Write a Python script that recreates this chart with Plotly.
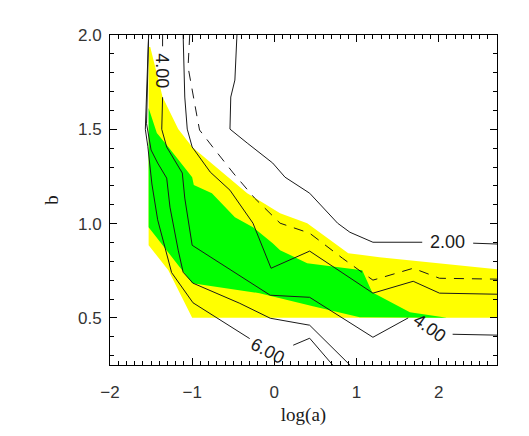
import plotly.graph_objects as go

# ---- filled confidence regions (data units) ----
yellow_x = [-1.51, -1.36, -1.17, -1.00, -0.33, 0.07, 0.40, 0.90, 1.28, 2.75, 2.75, -1.00, -1.29, -1.53, -1.53]
yellow_y = [1.936, 1.671, 1.501, 1.406, 1.161, 1.055, 1.002, 0.843, 0.822, 0.756, 0.50, 0.50, 0.753, 0.885, 1.936]

green_x = [-1.53, -1.43, -1.29, -1.00, -0.98, -0.76, -0.48, -0.26, -0.02, 0.07, 0.40, 1.07, 1.19, 1.65, 2.10, 1.04, 0.47, -0.18, -1.00, -1.53]
green_y = [1.613, 1.480, 1.406, 1.246, 1.204, 1.161, 1.034, 0.981, 0.896, 0.859, 0.790, 0.753, 0.636, 0.530, 0.50, 0.503, 0.562, 0.631, 0.684, 0.981]

# ---- contour lines (data units; None = gap for a label) ----
c6_x = [-1.53, -1.57, -1.54, -1.51, -1.49, -1.42, -1.33, -1.25, -0.99, -0.30, None, 0.23, 0.43, 0.71]
c6_y = [2.0, 1.50, 1.41, 1.28, 1.21, 1.02, 0.87, 0.74, 0.58, 0.39, None, 0.355, 0.392, 0.25]

c5_x = [-1.53, -1.555, -1.50, -1.42, -1.31, -1.27, -1.17, -1.11, -0.99, -0.42, -0.05, 0.43, 0.92]
c5_y = [2.0, 1.53, 1.39, 1.321, 1.241, 1.087, 0.859, 0.742, 0.684, 0.577, 0.498, 0.461, 0.25]

c4_x = [-1.36, -1.36, None, -1.36, -1.37, -1.31, -1.12, -1.09, -1.00, -0.05, 0.43, 1.20, 1.63, None, 2.17, 2.75]
c4_y = [2.0, 1.94, None, 1.67, 1.50, 1.406, 1.268, 1.135, 0.885, 0.620, 0.609, 0.397, 0.50, None, 0.413, 0.408]

c3_x = [-1.11, -1.09, -1.06, -1.00, -0.78, -0.54, -0.26, -0.04, 0.43, 0.92, 1.20, 1.69, 2.01, 2.75]
c3_y = [2.0, 1.671, 1.501, 1.406, 1.273, 1.177, 1.002, 0.763, 0.854, 0.710, 0.631, 0.694, 0.631, 0.625]

c2_x = [-0.455, -0.48, -0.53, -0.54, -0.33, -0.02, 0.13, 0.43, 0.77, 0.92, 1.20, 1.80, None, 2.42, 2.75]
c2_y = [2.0, 1.761, 1.671, 1.501, 1.427, 1.321, 1.246, 1.161, 1.002, 0.954, 0.901, 0.901, None, 0.896, 0.891]

cd_x = [-1.03, -1.05, -0.94, -0.91, -0.75, -0.50, -0.24, 0.07, 0.43, 0.83, 1.20, 1.69, 2.01, 2.75]
cd_y = [2.0, 1.830, 1.565, 1.496, 1.406, 1.268, 1.135, 1.002, 0.949, 0.816, 0.700, 0.763, 0.710, 0.705]

# ---- contour labels ----
label_text = ["2.00", "4.00", "4.00", "6.00"]
label_x = [2.11, -1.37, 1.89, -0.08]
label_y = [0.901, 1.809, 0.445, 0.323]
label_angle = [0, 90, 35, 28]

# ---- axis ticks ----
x_ticks = [-2, -1, 0, 1, 2]
x_ticktext = ["\u22122", "\u22121", "0", "1", "2"]
y_ticks = [0.5, 1.0, 1.5, 2.0]
y_ticktext = ["0.5", "1.0", "1.5", "2.0"]

fig = go.Figure()
fig.add_trace(go.Scatter(x=yellow_x, y=yellow_y, fill="toself", fillcolor="#ffff00",
                         mode="none", hoverinfo="skip", showlegend=False))
fig.add_trace(go.Scatter(x=green_x, y=green_y, fill="toself", fillcolor="#00ff00",
                         mode="none", hoverinfo="skip", showlegend=False))

line_style = dict(color="#1a1a1a", width=1)
for xs, ys in [(c6_x, c6_y), (c5_x, c5_y), (c4_x, c4_y), (c3_x, c3_y), (c2_x, c2_y)]:
    fig.add_trace(go.Scatter(x=xs, y=ys, mode="lines", line=line_style,
                             connectgaps=False, showlegend=False, hoverinfo="skip"))
fig.add_trace(go.Scatter(x=cd_x, y=cd_y, mode="lines",
                         line=dict(color="#1a1a1a", width=1, dash="10px,8px"),
                         showlegend=False, hoverinfo="skip"))

for t, lx, ly, ang in zip(label_text, label_x, label_y, label_angle):
    fig.add_annotation(x=lx, y=ly, text=t, showarrow=False, textangle=ang,
                       font=dict(family="Liberation Sans", size=18, color="#1a1a1a"))

axis_common = dict(showline=True, linecolor="black", linewidth=1, mirror="allticks",
                   ticks="inside", ticklen=7, tickcolor="black", tickwidth=1,
                   showgrid=False, zeroline=False,
                   tickfont=dict(family="Liberation Sans", size=17, color="#333333"))

fig.update_xaxes(range=[-2, 2.71], tickmode="array", tickvals=x_ticks, ticktext=x_ticktext,
                 minor=dict(dtick=0.1, tick0=0, ticks="inside", ticklen=4, tickcolor="black"),
                 ticklabelstandoff=12,
                 title=dict(text="log(a)", font=dict(family="Liberation Serif", size=19, color="#1a1a1a"),
                            standoff=6),
                 **axis_common)
fig.update_yaxes(range=[0.25, 2.0], tickmode="array", tickvals=y_ticks, ticktext=y_ticktext,
                 minor=dict(dtick=0.1, tick0=0, ticks="inside", ticklen=4, tickcolor="black"),
                 ticklabelstandoff=4,
                 title=dict(text="b", font=dict(family="Liberation Serif", size=19, color="#1a1a1a"),
                            standoff=14),
                 **axis_common)

fig.update_layout(width=521, height=428, margin=dict(l=102, r=32, t=27, b=71),
                  paper_bgcolor="white", plot_bgcolor="white")

fig.write_html("out.html")
